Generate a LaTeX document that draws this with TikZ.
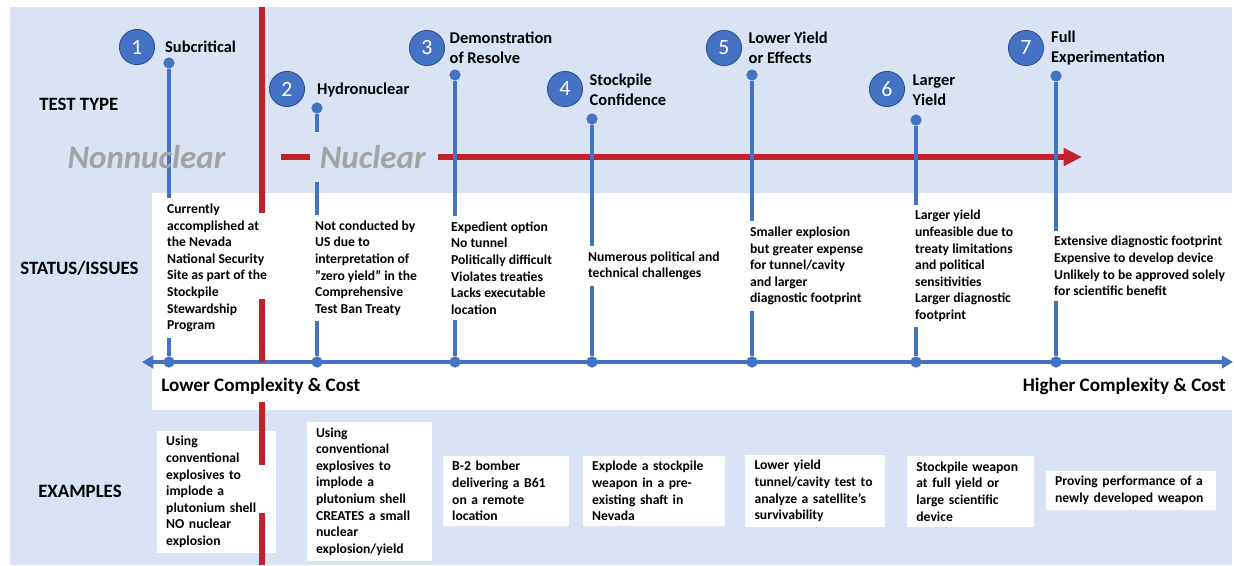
\documentclass[tikz,border=0pt]{standalone}
\usepackage{fontspec}
\setmainfont{Carlito}
\usetikzlibrary{positioning,arrows.meta,calc}

\definecolor{bgblue}{HTML}{DAE3F3}
\definecolor{stemblue}{HTML}{4472C4}
\definecolor{nucred}{HTML}{C0222B}
\definecolor{faded}{HTML}{A3A3A3}

\begin{document}
\begin{tikzpicture}[
  x=0.025cm, y=-0.025cm,
  font=\bfseries,
  stem/.style={draw=stemblue, line width=2.7pt},
  dot/.style={circle, fill=stemblue, inner sep=0pt, minimum size=8pt},
  num/.style={circle, fill=stemblue, draw=stemblue!70!black, line width=0.6pt, minimum size=25pt, inner sep=0pt, text=white, font=\fontsize{15.5}{16}\selectfont},
  ttl/.style={anchor=west, align=left, inner sep=1pt, font=\bfseries\fontsize{11.7}{14.2}\selectfont},
  rowlbl/.style={anchor=west, inner sep=0pt, font=\bfseries\fontsize{13.4}{15}\selectfont},
  status/.style={anchor=west, align=left, fill=white, inner xsep=2pt, inner ysep=4pt, font=\bfseries\fontsize{9.7}{11.8}\selectfont},
  ex/.style={fill=white, align=left, inner xsep=6.5pt, inner ysep=4pt, font=\bfseries\fontsize{9.7}{11.8}\selectfont},
  axlbl/.style={inner sep=0pt, font=\bfseries\fontsize{13.6}{15}\selectfont},
  redline/.style={draw=nucred, line width=4.2pt},
  bigword/.style={inner sep=0pt, font=\bfseries\itshape\fontsize{23.4}{26}\selectfont, text=faded}
]

\useasboundingbox (0,0) rectangle (1234,565);

% Panels
\fill[white] (0,0) rectangle (1234,565);
\fill[bgblue] (10,7) rectangle (1232,565);
\fill[white] (152,193) rectangle (1232,410);

% Complexity axis
\coordinate (axL) at (142,362);
\coordinate (axR) at (1233,362);
\draw[draw=stemblue, line width=2.8pt, {Triangle[length=8pt, width=9pt]}-{Triangle[length=8pt, width=9pt]}] (axL) -- (axR);

% Nuclear arrow
\coordinate (dashL) at (281,157);
\coordinate (dashR) at (310,157);
\coordinate (arrL) at (438,157);
\coordinate (arrR) at (1082,157);
\draw[redline] (dashL) -- (dashR);
\draw[redline, -{Triangle[length=13pt, width=12pt]}] (arrL) -- (arrR);

% Stems (top dot to axis dot)
\node[dot] (t1) at (169,63)  {};
\node[dot] (t2) at (317,108) {};
\node[dot] (t3) at (455,75)  {};
\node[dot] (t4) at (592,119) {};
\node[dot] (t5) at (752,75)  {};
\node[dot] (t6) at (916,120) {};
\node[dot] (t7) at (1056,76) {};
\node[dot] (a1) at (169,362)  {};
\node[dot] (a2) at (317,362)  {};
\node[dot] (a3) at (455,362)  {};
\node[dot] (a4) at (592,362)  {};
\node[dot] (a5) at (752,362)  {};
\node[dot] (a6) at (916,362)  {};
\node[dot] (a7) at (1056,362) {};
\draw[stem] (t1) -- (a1);
\draw[stem] (t2) -- (a2);
\draw[stem] (t3) -- (a3);
\draw[stem] (t4) -- (a4);
\draw[stem] (t5) -- (a5);
\draw[stem] (t6) -- (a6);
\draw[stem] (t7) -- (a7);

\node[bigword] (nonnuc) at (146.5,157) {Nonnuclear};
\node[bigword, anchor=west, fill=bgblue, inner xsep=4pt, minimum height=36pt] (nuc) at (314,157) {Nuclear};

% Row labels
\node[rowlbl] (testtype) at (39,104) {TEST TYPE};
\node[rowlbl] (statlbl)  at (20,268) {STATUS/ISSUES};
\node[rowlbl] (exlbl)    at (38,491) {EXAMPLES};

% Test types
\node[num] (n1) at (137,47) {1};
\node[num] (n2) at (287,89) {2};
\node[num] (n3) at (427,48) {3};
\node[num] (n4) at (565,89) {4};
\node[num] (n5) at (724,48) {5};
\node[num] (n6) at (887,89) {6};
\node[num] (n7) at (1026,48) {7};
\node[ttl] (l1) at (163.5,47) {Subcritical};
\node[ttl] (l2) at (315.5,90) {Hydronuclear};
\node[ttl] (l3) at (448,48)   {Demonstration\\of Resolve};
\node[ttl] (l4) at (588,89.5) {Stockpile\\Confidence};
\node[ttl] (l5) at (747,48)   {Lower Yield\\or Effects};
\node[ttl] (l6) at (911,90)   {Larger\\Yield};
\node[ttl] (l7) at (1049.5,48) {Full\\Experimentation};

% Status / issues
\node[status] (s1) at (164,268) {Currently\\accomplished at\\the Nevada\\National Security\\Site as part of the\\Stockpile\\Stewardship\\Program};
\node[status] (s2) at (312,268) {Not conducted by\\US due to\\interpretation of\\”zero yield” in the\\Comprehensive\\Test Ban Treaty};
\node[status] (s3) at (448,268) {Expedient option\\No tunnel\\Politically difficult\\Violates treaties\\Lacks executable\\location};
\node[status] (s4) at (585,266) {Numerous political and\\technical challenges};
\node[status] (s5) at (747,266) {Smaller explosion\\but greater expense\\for tunnel/cavity\\and larger\\diagnostic footprint};
\node[status] (s6) at (912,266) {Larger yield\\unfeasible due to\\treaty limitations\\and political\\sensitivities\\Larger diagnostic\\footprint};
\node[status] (s7) at (1051,266) {Extensive diagnostic footprint\\Expensive to develop device\\Unlikely to be approved solely\\for scientific benefit};

\node[axlbl, anchor=west] (lowc) at (161,386) {Lower Complexity \& Cost};
\node[axlbl, anchor=east] (highc) at (1226,386) {Higher Complexity \& Cost};

% Examples
\node[ex, text width=71.5pt] (e1) at (216.5,492) {Using\\conventional\\explosives to\\implode a\\plutonium shell\\NO nuclear\\explosion};
\node[ex, text width=76pt] (e2) at (369.5,491.5) {Using\\conventional\\explosives to\\implode a\\plutonium shell\\CREATES a small\\nuclear\\explosion/yield};
\node[ex, text width=76.5pt] (e3) at (506,491) {B-2 bomber\\delivering a B61\\on a remote\\location};
\node[ex, text width=88pt] (e4) at (654,491) {Explode a stockpile\\weapon in a pre-\\existing shaft in\\Nevada};
\node[ex, text width=86pt] (e5) at (815,491) {Lower yield\\tunnel/cavity test to\\analyze a satellite’s\\survivability};
\node[ex, text width=77pt] (e6) at (970.5,491.5) {Stockpile weapon\\at full yield or\\large scientific\\device};
\node[ex, text width=108pt] (e7) at (1131,490.5) {Proving performance of a\\newly developed weapon};

% Nonnuclear / nuclear divide
\draw[redline] (262,7) -- (262,213);
\draw[redline] (262,299) -- (262,362);
\draw[redline] (262,402) -- (262,465);
\draw[redline] (262,513) -- (262,565);

\end{tikzpicture}
\end{document}
